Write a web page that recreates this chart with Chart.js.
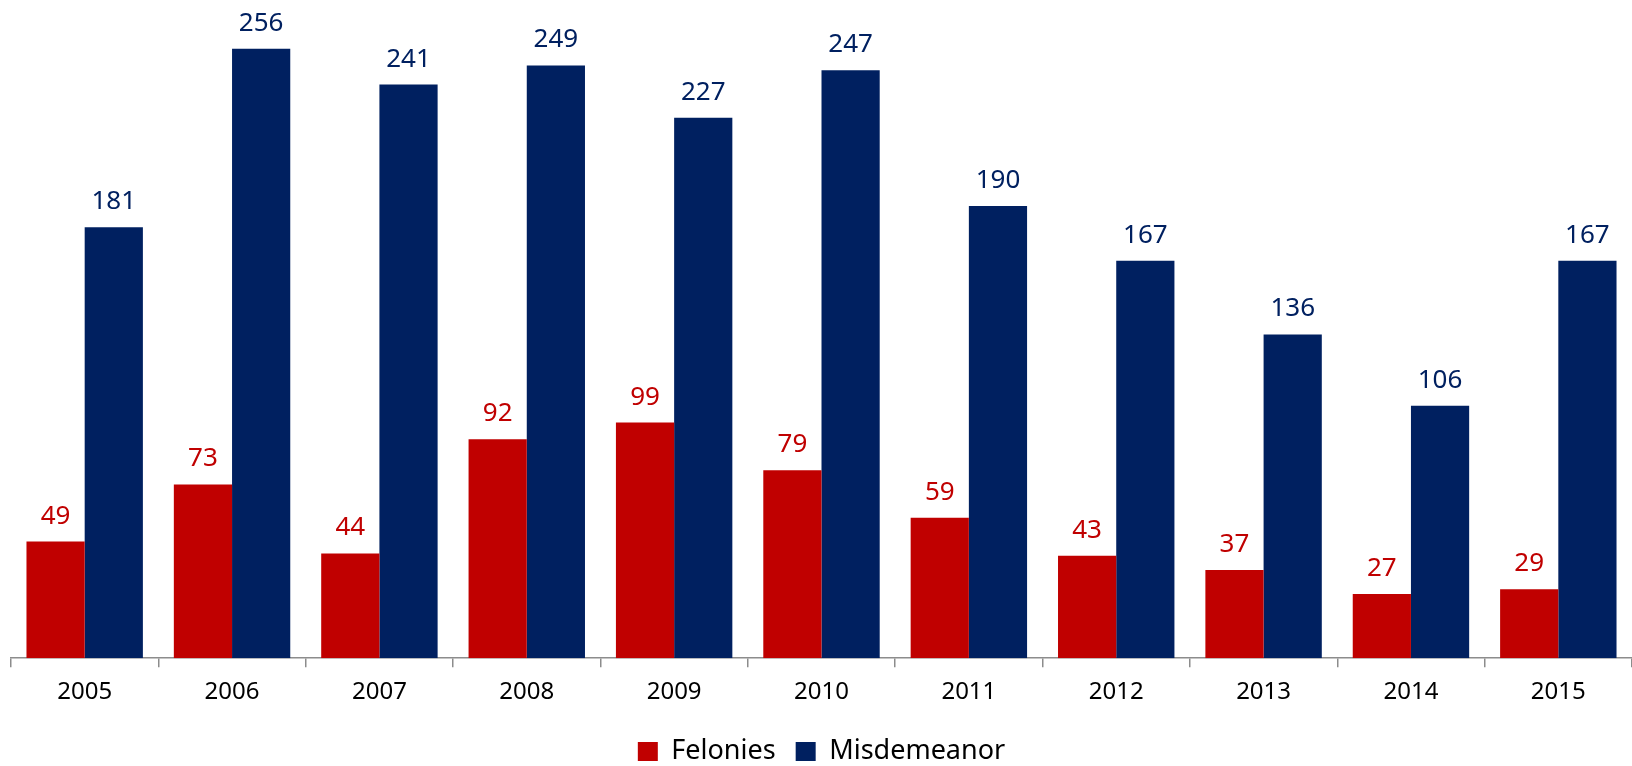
<!DOCTYPE html>
<html>
<head>
<meta charset="utf-8">
<script src="https://cdn.jsdelivr.net/npm/chart.js@4.4.1/dist/chart.umd.min.js"></script>
<style>
  html, body { margin: 0; padding: 0; background: #fff; overflow: hidden; }
  #wrap { width: 1632px; height: 775px; position: relative; }
</style>
</head>
<body>
<div id="wrap"><canvas id="chart"></canvas></div>
<script>
const years = ['2005', '2006', '2007', '2008', '2009', '2010', '2011', '2012', '2013', '2014', '2015']
const felonies = [49, 73, 44, 92, 99, 79, 59, 43, 37, 27, 29]
const misdemeanor = [181, 256, 241, 249, 227, 247, 190, 167, 136, 106, 167]

const RED = '#C00000'
const NAVY = '#002060'
const FONT = "'Noto Sans', sans-serif"

// value labels sitting above each bar, same colour as the series
const barLabels = {
  id: 'barLabels',
  afterDatasetsDraw(chart) {
    const { ctx } = chart
    ctx.save()
    ctx.font = `26px ${FONT}`
    ctx.textAlign = 'center'
    ctx.textBaseline = 'alphabetic'
    chart.data.datasets.forEach((ds, i) => {
      const meta = chart.getDatasetMeta(i)
      meta.data.forEach((bar, j) => {
        ctx.fillStyle = ds.backgroundColor
        ctx.fillText(String(ds.data[j]), bar.x, bar.y - 18)
      })
    })
    ctx.restore()
  }
}

const ctx = document.getElementById('chart').getContext('2d')

new Chart(ctx, {
  type: 'bar',
  data: {
    labels: years,
    datasets: [
      { label: 'Felonies', data: felonies, backgroundColor: RED },
      { label: 'Misdemeanor', data: misdemeanor, backgroundColor: NAVY }
    ]
  },
  options: {
    responsive: true,
    maintainAspectRatio: false,
    animation: false,
    layout: { padding: { left: 11, right: 0, top: 0, bottom: 0 } },
    datasets: {
      bar: { categoryPercentage: 0.79, barPercentage: 1.0 }
    },
    plugins: {
      legend: {
        position: 'bottom',
        labels: {
          color: '#000',
          font: { family: FONT, size: 27 },
          boxWidth: 20,
          boxHeight: 19,
          padding: 20
        }
      },
      tooltip: { enabled: false }
    },
    scales: {
      y: {
        display: false,
        min: 0,
        max: 276.5
      },
      x: {
        border: { display: true, color: '#8c8c8c', width: 1.5 },
        grid: {
          offset: true,
          drawOnChartArea: false,
          drawTicks: true,
          tickLength: 9,
          color: '#8c8c8c',
          lineWidth: 1.5
        },
        ticks: {
          color: '#000',
          font: { family: FONT, size: 24 },
          padding: 11,
          maxRotation: 0
        }
      }
    }
  },
  plugins: [barLabels]
})
</script>
</body>
</html>
